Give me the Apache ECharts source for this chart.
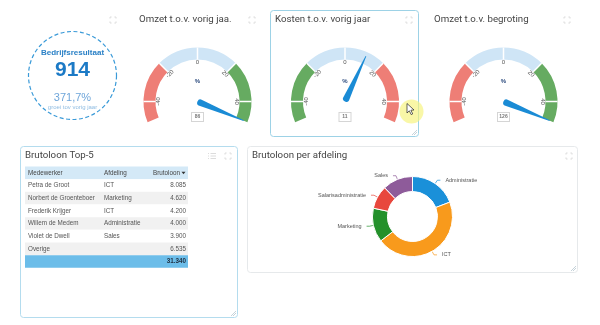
<!DOCTYPE html>
<html><head><meta charset="utf-8">
<script src="https://cdn.jsdelivr.net/npm/echarts@6/dist/echarts.min.js"></script>
<style>html,body{margin:0;padding:0;background:#fff}#c{width:600px;height:325px}</style>
</head><body><div id="c"></div>
<script>
// KPI
const kpiTitle = 'Bedrijfsresultaat';
const kpiValue = 914;
const kpiGrowth = '371,7%';
const kpiSub = 'groei tov vorig jaar';
// Gauges
const gaugeTitles = ['Omzet t.o.v. vorig jaa.', 'Kosten t.o.v. vorig jaar', 'Omzet t.o.v. begroting'];
const gaugeValues = [86, 11, 126];
const gaugeReversed = [false, true, false];
const gaugeUnit = '%';
// Table
const tableHeaders = ['Medewerker', 'Afdeling', 'Brutoloon'];
const tableNames = ['Petra de Groot', 'Norbert de Groenteboer', 'Frederik Krijger', 'Willem de Medem', 'Violet de Dwell', 'Overige'];
const tableDepts = ['ICT', 'Marketing', 'ICT', 'Administratie', 'Sales', ''];
const tableValues = [8085, 4620, 4200, 4000, 3900, 6535];
// Pie
const deptNames = ['Administratie', 'ICT', 'Marketing', 'Salarisadministratie', 'Sales'];
const deptValues = [6000, 14240, 4310, 2950, 3840];
const deptColors = ['#1a90d9', '#f89a1c', '#23902a', '#e8473d', '#8e5b9a'];

const RED = '#ee7e76', BLUE = '#cfe5f6', GREEN = '#66ab61';
const TITLE_FONT = 'Roboto';
const fmt = v => String(v).replace(/\B(?=(\d{3})+(?!\d))/g, '.');

const chart = echarts.init(document.getElementById('c'), null, {renderer: 'canvas'});
const g = [];

function expandIcon(x, y) {
  const s = 3, a = 1.6, c = '#dcdcdc';
  [[-1,-1],[1,-1],[-1,1],[1,1]].forEach(([dx,dy]) => {
    g.push({type:'polyline', silent:true, shape:{points:[[x+dx*s, y+dy*(s-a)],[x+dx*s, y+dy*s],[x+dx*(s-a), y+dy*s]]}, style:{stroke:c, lineWidth:1, fill:null}});
  });
}
function resizeHandle(x, y) {
  [[5],[3]].forEach(([d]) => g.push({type:'line', silent:true, shape:{x1:x-d, y1:y, x2:x, y2:y-d}, style:{stroke:'#b8c8d0', lineWidth:0.8}}));
}
function title(t, x, y) {
  g.push({type:'text', silent:true, style:{text:t, x:x, y:y, fontSize:9.7, fontFamily:TITLE_FONT, fill:'#444', textVerticalAlign:'middle'}});
}

// Panels
g.push({type:'rect', silent:true, shape:{x:270.5, y:10.5, width:148, height:126, r:3}, style:{fill:'#fff', stroke:'#9dd2e6', lineWidth:1}});
g.push({type:'rect', silent:true, shape:{x:20.5, y:146.5, width:217, height:171, r:3}, style:{fill:'#fff', stroke:'#b4dcee', lineWidth:1}});
g.push({type:'rect', silent:true, shape:{x:247.5, y:146.5, width:330, height:126, r:3}, style:{fill:'#fff', stroke:'#e6e9eb', lineWidth:1}});
expandIcon(113, 20); expandIcon(252, 20); expandIcon(409, 20); expandIcon(567, 20);
expandIcon(228, 156); expandIcon(569, 156);
// list icon
[153.5,156,158.5].forEach(yy => {
  g.push({type:'line', silent:true, shape:{x1:208, y1:yy, x2:209, y2:yy}, style:{stroke:'#dcdcdc', lineWidth:1}});
  g.push({type:'line', silent:true, shape:{x1:210.5, y1:yy, x2:216, y2:yy}, style:{stroke:'#dcdcdc', lineWidth:1}});
});
resizeHandle(417, 135); resizeHandle(236, 316); resizeHandle(576, 271);

// Titles
title(gaugeTitles[0], 139, 20);
title(gaugeTitles[1], 275, 20);
title(gaugeTitles[2], 434, 20);
title('Brutoloon Top-5', 25, 156);
title('Brutoloon per afdeling', 252, 156);

// KPI circle
g.push({type:'circle', silent:true, shape:{cx:72.5, cy:75.5, r:44}, style:{fill:null, stroke:'#3a9ad8', lineWidth:1.2, lineDash:[4,2.5]}});
g.push({type:'text', silent:true, style:{text:kpiTitle, x:72.5, y:52.5, fontSize:8, fontWeight:'bold', fontFamily:'Liberation Sans', fill:'#2a80c6', textAlign:'center', textVerticalAlign:'middle'}});
g.push({type:'text', silent:true, style:{text:String(kpiValue), x:72.5, y:70, fontSize:21, fontWeight:'bold', fontFamily:'Liberation Sans', fill:'#1c7ac6', textAlign:'center', textVerticalAlign:'middle'}});
g.push({type:'text', silent:true, style:{text:kpiGrowth, x:72.5, y:97.5, fontSize:11, fontFamily:'Liberation Sans', fill:'#6fa6da', textAlign:'center', textVerticalAlign:'middle'}});
g.push({type:'text', silent:true, style:{text:kpiSub, x:72.5, y:107.5, fontSize:6, fontFamily:'Liberation Sans', fill:'#8fbce2', textAlign:'center', textVerticalAlign:'middle'}});

// Table
const tx = 25, tw = 163, ty = 166.5, rh = 12.67;
const colX = [28, 104, 186];
g.push({type:'rect', silent:true, shape:{x:tx, y:ty, width:tw, height:rh}, style:{fill:'#d4e9f7'}});
g.push({type:'text', silent:true, style:{text:tableHeaders[0], x:colX[0], y:ty+rh/2, fontSize:6.3, fontFamily:'Liberation Sans', fill:'#444', textVerticalAlign:'middle'}});
g.push({type:'text', silent:true, style:{text:tableHeaders[1], x:colX[1], y:ty+rh/2, fontSize:6.3, fontFamily:'Liberation Sans', fill:'#444', textVerticalAlign:'middle'}});
g.push({type:'text', silent:true, style:{text:tableHeaders[2], x:colX[2]-6, y:ty+rh/2, fontSize:6.3, fontFamily:'Liberation Sans', fill:'#444', textAlign:'right', textVerticalAlign:'middle'}});
g.push({type:'polygon', silent:true, shape:{points:[[colX[2]-4.5, ty+rh/2-1.2],[colX[2]-0.5, ty+rh/2-1.2],[colX[2]-2.5, ty+rh/2+1.3]]}, style:{fill:'#333'}});
tableNames.forEach((n, i) => {
  const y = ty + rh*(i+1);
  g.push({type:'rect', silent:true, shape:{x:tx, y:y, width:tw, height:rh}, style:{fill: i%2 ? '#f1f1f1' : '#fff'}});
  g.push({type:'text', silent:true, style:{text:n, x:colX[0], y:y+rh/2, fontSize:6.3, fontFamily:'Liberation Sans', fill:'#555', textVerticalAlign:'middle'}});
  g.push({type:'text', silent:true, style:{text:tableDepts[i], x:colX[1], y:y+rh/2, fontSize:6.3, fontFamily:'Liberation Sans', fill:'#555', textVerticalAlign:'middle'}});
  g.push({type:'text', silent:true, style:{text:fmt(tableValues[i]), x:colX[2], y:y+rh/2, fontSize:6.3, fontFamily:'Liberation Sans', fill:'#555', textAlign:'right', textVerticalAlign:'middle'}});
});
const totY = ty + rh*(tableNames.length+1);
g.push({type:'rect', silent:true, shape:{x:tx, y:totY, width:tw, height:rh}, style:{fill:'#6cbde9'}});
g.push({type:'text', silent:true, style:{text:fmt(tableValues.reduce((a,b)=>a+b,0)), x:colX[2], y:totY+rh/2, fontSize:6.3, fontWeight:'bold', fontFamily:'Liberation Sans', fill:'#234', textAlign:'right', textVerticalAlign:'middle'}});

// Cursor highlight
g.push({type:'circle', silent:true, z:100, shape:{cx:411.5, cy:111.5, r:12}, style:{fill:'rgba(246,242,120,0.65)'}});
g.push({type:'polygon', silent:true, z:101, shape:{points:[[407,103.5],[407,113],[409.3,110.8],[411.2,114.6],[412.7,113.9],[410.9,110.2],[414,110]]}, style:{fill:'#fff', stroke:'#222', lineWidth:0.7}});

// Gauges
const gaugeCenters = [[197.5, 101.5], [345, 101.5], [503.5, 101.5]];
const R = 54;
const series = [];
gaugeValues.forEach((v, i) => {
  const c = gaugeCenters[i];
  const cols = gaugeReversed[i] ? [GREEN, BLUE, RED] : [RED, BLUE, GREEN];
  series.push({
    type:'gauge', center:c, radius:R, min:-50, max:50, startAngle:202.5, endAngle:-22.5,
    axisLine:{lineStyle:{width:12, color:[[0.3, cols[0]],[0.7, cols[1]],[1, cols[2]]]}},
    splitLine:{show:false}, axisTick:{show:false}, axisLabel:{show:false},
    progress:{show:false},
    pointer:{icon:'path://M4.4,0 L5.6,0 L10,94 A5,5 0 0 1 0,94 Z', width:6.5, length:50, offsetCenter:[0,0], itemStyle:{color:'#1a8bd5'}},
    anchor:{show:false},
    title:{offsetCenter:[0,-20], fontSize:6, fontWeight:'bold', color:'#2b4a7e'},
    detail:{offsetCenter:[0,15.5], width:9, height:6, lineHeight:6, fontSize:5, color:'#777', borderColor:'#d5d5d5', borderWidth:1, borderRadius:0, padding:[1,1], backgroundColor:'#fff', formatter:'{value}', valueAnimation:false},
    animation:false,
    data:[{value:v, name:gaugeUnit}]
  });
  series.push({
    type:'gauge', center:c, radius:R, min:-40, max:40, startAngle:180, endAngle:0, splitNumber:4, silent:true,
    axisLine:{show:true, lineStyle:{width:12, color:[[1,'rgba(0,0,0,0)']]}},
    splitLine:{show:true, length:12, distance:-12, lineStyle:{color:'#fff', width:1.5}},
    axisTick:{show:false},
    axisLabel:{distance:15, fontSize:6, color:'#555', rotate:'tangential'},
    pointer:{show:false}, anchor:{show:false}, title:{show:false}, detail:{show:false},
    animation:false,
    data:[{value:0}]
  });
});

series.push({
  type:'pie', center:[412.5, 216.5], radius:[25, 40], startAngle:90, clockwise:true,
  avoidLabelOverlap:false, animation:false,
  itemStyle:{borderColor:'#fff', borderWidth:1},
  label:{show:true, position:'outside', fontSize:5.5, color:'#555', fontFamily:'Liberation Sans'},
  labelLine:{show:true, length:4, length2:3, lineStyle:{width:0.7}},
  data: deptNames.map((n, i) => ({name:n, value:deptValues[i], itemStyle:{color:deptColors[i]}}))
});

chart.setOption({
  animation:false,
  graphic:{elements:g},
  series:series
});
</script></body></html>
